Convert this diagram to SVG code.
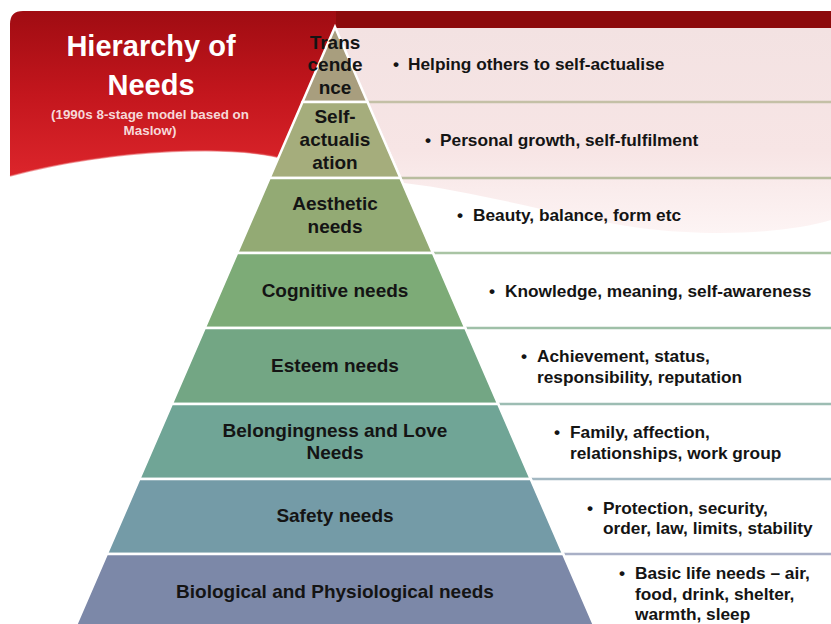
<svg xmlns="http://www.w3.org/2000/svg" width="831" height="624" viewBox="0 0 831 624">
  <defs>
    <linearGradient id="bannerGrad" x1="0" y1="0" x2="0" y2="1">
      <stop offset="0" stop-color="#a00c12"/>
      <stop offset="0.5" stop-color="#c3161d"/>
      <stop offset="1" stop-color="#dc252b"/>
    </linearGradient>
    <linearGradient id="pinkGrad" x1="0" y1="0" x2="0" y2="1">
      <stop offset="0" stop-color="#f3e2e2"/>
      <stop offset="0.6" stop-color="#f7e5e5"/>
      <stop offset="1" stop-color="#fdf4f4"/>
    </linearGradient>
    <style>
      .layer { stroke: #ffffff; stroke-width: 2.5; stroke-linejoin: miter; }
      .sep { stroke-width: 2.5; fill: none; }
      .lbl { font-family: "Liberation Sans", Arial, sans-serif; font-weight: bold; font-size: 19px; fill: #141414; text-anchor: middle; }
      .desc { font-family: "Liberation Sans", Arial, sans-serif; font-weight: bold; font-size: 17.3px; fill: #141414; }
      .title { font-family: "Liberation Sans", Arial, sans-serif; font-weight: bold; font-size: 29px; fill: #ffffff; text-anchor: middle; }
      .sub { font-family: "Liberation Sans", Arial, sans-serif; font-weight: bold; font-size: 13.4px; fill: #f6d8d8; text-anchor: middle; }
    </style>
  </defs>

  <rect width="831" height="624" fill="#ffffff"/>

  <!-- red title banner with wavy lower edge -->
  <g id="banner">
    <path d="M10,24 Q10,11 23,11 L831,11 L831,45 L340,45 L288,160 C 240,145 120,147 10,176 Z" fill="url(#bannerGrad)"/>
    <rect x="336" y="11" width="495" height="17" fill="#8c0a0c"/>
    <path d="M10,176 C 120,147 240,145 288,160" fill="none" stroke="#e65a5e" stroke-width="1.5" opacity="0.6"/>
    <text class="title" x="151" y="56">Hierarchy of</text>
    <text class="title" x="151" y="95">Needs</text>
    <text class="sub" x="150" y="119">(1990s 8-stage model based on</text>
    <text class="sub" x="150" y="135">Maslow)</text>
  </g>

  <!-- description panel to the right of the pyramid -->
  <g id="panel">
    <polygon points="335,28 831,28 831,630 596,630" fill="#ffffff"/>
    <path d="M335,28 L831,28 L831,220 C 790,232 720,238 640,228 C 560,216 480,192 404,183 Z" fill="url(#pinkGrad)"/>
  </g>

  <!-- row separators -->
  <g id="connectors">
    <line class="sep" x1="367" y1="102" x2="831" y2="102" stroke="#c4c0a6"/>
    <line class="sep" x1="400" y1="178" x2="831" y2="178" stroke="#b9bd9f"/>
    <line class="sep" x1="433" y1="253" x2="831" y2="253" stroke="#a9c4a4"/>
    <line class="sep" x1="465" y1="328" x2="831" y2="328" stroke="#9fc0a8"/>
    <line class="sep" x1="498" y1="404" x2="831" y2="404" stroke="#9dbdb3"/>
    <line class="sep" x1="531" y1="479" x2="831" y2="479" stroke="#a3b8c2"/>
    <line class="sep" x1="563" y1="554" x2="831" y2="554" stroke="#a9b0c6"/>
  </g>

  <!-- pyramid layers, top to bottom -->
  <g id="transcendence">
    <polygon class="layer" points="335,27 367.5,102 302.5,102" fill="#a89e7e"/>
    <text class="lbl" x="335" y="49">Trans</text>
    <text class="lbl" x="335" y="71">cende</text>
    <text class="lbl" x="335" y="94">nce</text>
    <text class="desc" x="393" y="70">•<tspan x="408">Helping others to self-actualise</tspan></text>
  </g>

  <g id="self-actualisation">
    <polygon class="layer" points="302.5,102 367.5,102 400.4,178 269.6,178" fill="#a5ad7c"/>
    <text class="lbl" x="335" y="123">Self-</text>
    <text class="lbl" x="335" y="146">actualis</text>
    <text class="lbl" x="335" y="169">ation</text>
    <text class="desc" x="425" y="146">•<tspan x="440">Personal growth, self-fulfilment</tspan></text>
  </g>

  <g id="aesthetic">
    <polygon class="layer" points="269.6,178 400.4,178 432.9,253 237.1,253" fill="#93aa74"/>
    <text class="lbl" x="335" y="210">Aesthetic</text>
    <text class="lbl" x="335" y="233">needs</text>
    <text class="desc" x="457" y="221">•<tspan x="473">Beauty, balance, form etc</tspan></text>
  </g>

  <g id="cognitive">
    <polygon class="layer" points="237.1,253 432.9,253 465.3,328 204.7,328" fill="#7dab77"/>
    <text class="lbl" x="335" y="297">Cognitive needs</text>
    <text class="desc" x="489" y="297">•<tspan x="505">Knowledge, meaning, self-awareness</tspan></text>
  </g>

  <g id="esteem">
    <polygon class="layer" points="204.7,328 465.3,328 498.2,404 171.8,404" fill="#73a684"/>
    <text class="lbl" x="335" y="372">Esteem needs</text>
    <text class="desc" x="521" y="362">•<tspan x="537">Achievement, status,</tspan></text>
    <text class="desc" x="537" y="383">responsibility, reputation</text>
  </g>

  <g id="belonging">
    <polygon class="layer" points="171.8,404 498.2,404 530.7,479 139.3,479" fill="#70a596"/>
    <text class="lbl" x="335" y="437">Belongingness and Love</text>
    <text class="lbl" x="335" y="459">Needs</text>
    <text class="desc" x="554" y="438">•<tspan x="570">Family, affection,</tspan></text>
    <text class="desc" x="570" y="459">relationships, work group</text>
  </g>

  <g id="safety">
    <polygon class="layer" points="139.3,479 530.7,479 563.2,554 106.8,554" fill="#749ba7"/>
    <text class="lbl" x="335" y="522">Safety needs</text>
    <text class="desc" x="587" y="514">•<tspan x="603">Protection, security,</tspan></text>
    <text class="desc" x="603" y="534">order, law, limits, stability</text>
  </g>

  <g id="biological">
    <polygon class="layer" points="106.8,554 563.2,554 596.1,630 73.9,630" fill="#7c88a8"/>
    <text class="lbl" x="335" y="598">Biological and Physiological needs</text>
    <text class="desc" x="619" y="579">•<tspan x="635">Basic life needs – air,</tspan></text>
    <text class="desc" x="635" y="600">food, drink, shelter,</text>
    <text class="desc" x="635" y="620">warmth, sleep</text>
  </g>
</svg>
